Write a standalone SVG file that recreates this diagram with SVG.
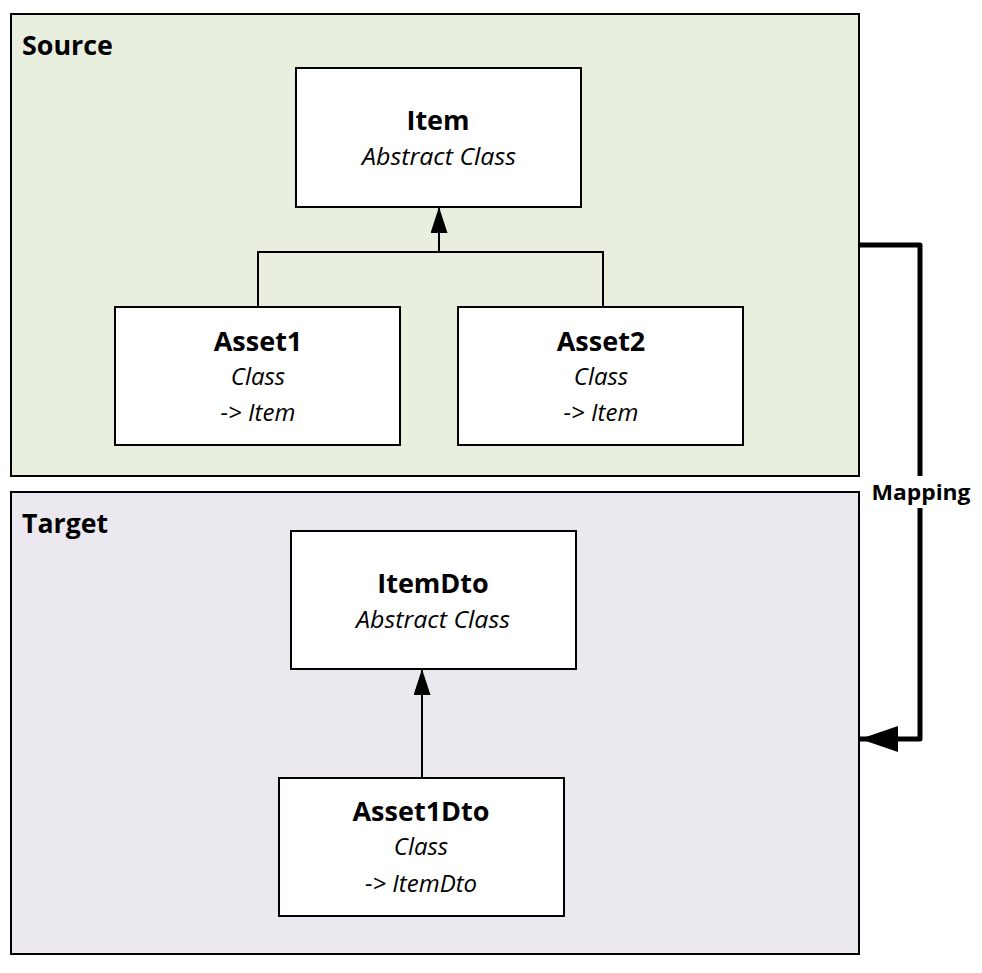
<svg xmlns="http://www.w3.org/2000/svg" width="982" height="973" viewBox="0 0 982 973">
<defs>
<style>
.cont{stroke:#000;stroke-width:2}
.box{fill:#fff;stroke:#000;stroke-width:2}
.t{font-family:"Open Sans","Liberation Sans",sans-serif;fill:#000}
.title{font-size:26px;font-weight:bold}
.name{font-size:27px;font-weight:bold;text-anchor:middle}
.sub{font-size:24px;font-style:italic;text-anchor:middle}
.conn{fill:none;stroke:#000;stroke-width:2}
.map{fill:none;stroke:#000;stroke-width:5;stroke-linejoin:round}
</style>
<marker id="tri" viewBox="0 0 26 17" refX="26" refY="8.5" markerWidth="26" markerHeight="17" markerUnits="userSpaceOnUse" orient="auto">
<path d="M0,0 L26,8.5 L0,17 Z" fill="#000"/>
</marker>
<marker id="big" viewBox="0 0 38 26" refX="38" refY="13" markerWidth="38" markerHeight="26" markerUnits="userSpaceOnUse" orient="auto">
<path d="M0,0 L38,13 L0,26 Z" fill="#000"/>
</marker>
</defs>
<rect width="982" height="973" fill="#fff"/>
<g id="source">
<rect class="cont" x="11" y="14" width="848" height="462" fill="#E9EFDF"/>
<text class="t title" x="22" y="55" textLength="91" lengthAdjust="spacingAndGlyphs">Source</text>
</g>
<g id="target">
<rect class="cont" x="11" y="492" width="848" height="462" fill="#EBE8EF"/>
<text class="t title" x="22" y="533" textLength="86" lengthAdjust="spacingAndGlyphs">Target</text>
</g>
<g id="connectors">
<polyline class="conn" points="258,307 258,252 603,252 603,307"/>
<line class="conn" x1="439" y1="252" x2="439" y2="207" marker-end="url(#tri)"/>
<line class="conn" x1="422" y1="778" x2="422" y2="669" marker-end="url(#tri)"/>
<polyline class="map" points="859,245 920,245 920,476"/>
<polyline class="map" points="920,508 920,739 860,739" marker-end="url(#big)"/>
<text class="t" x="921" y="500" font-size="22" font-weight="bold" text-anchor="middle" textLength="99" lengthAdjust="spacingAndGlyphs">Mapping</text>
</g>
<g id="item">
<rect class="box" x="296" y="68" width="285" height="139"/>
<text class="t name" x="438" y="130">Item</text>
<text class="t sub" x="439" y="165" textLength="154" lengthAdjust="spacingAndGlyphs">Abstract Class</text>
</g>
<g id="asset1">
<rect class="box" x="115" y="307" width="285" height="138"/>
<text class="t name" x="258" y="351">Asset1</text>
<text class="t sub" x="258" y="385">Class</text>
<text class="t sub" x="258" y="421">-&gt; Item</text>
</g>
<g id="asset2">
<rect class="box" x="458" y="307" width="285" height="138"/>
<text class="t name" x="601" y="351">Asset2</text>
<text class="t sub" x="601" y="385">Class</text>
<text class="t sub" x="601" y="421">-&gt; Item</text>
</g>
<g id="itemdto">
<rect class="box" x="291" y="531" width="285" height="138"/>
<text class="t name" x="433" y="593">ItemDto</text>
<text class="t sub" x="433" y="628" textLength="154" lengthAdjust="spacingAndGlyphs">Abstract Class</text>
</g>
<g id="asset1dto">
<rect class="box" x="279" y="778" width="285" height="138"/>
<text class="t name" x="421" y="821">Asset1Dto</text>
<text class="t sub" x="421" y="855">Class</text>
<text class="t sub" x="421" y="892">-&gt; ItemDto</text>
</g>
</svg>
